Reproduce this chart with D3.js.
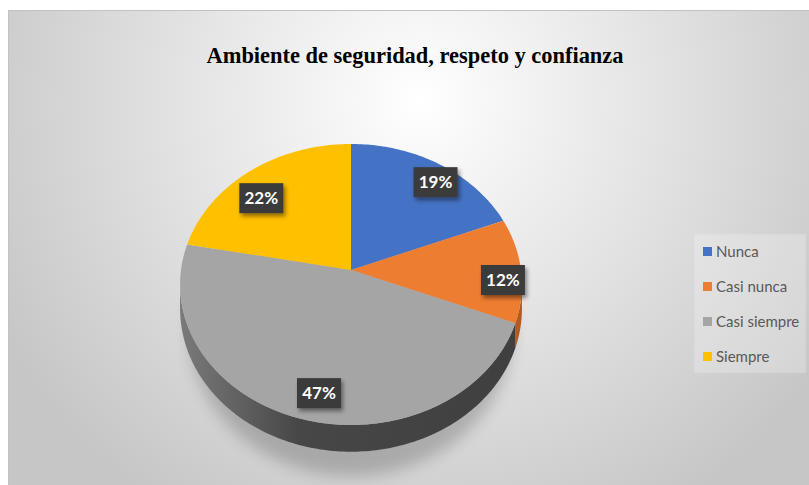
<!DOCTYPE html>
<html>
<head>
<meta charset="UTF-8">
<title>pie_3d</title>
<script src="https://cdn.jsdelivr.net/npm/d3@7"></script>
<style>
  body { margin: 0; background: #fff; }
  .title { font-family: "Liberation Serif", "DejaVu Serif", serif; font-weight: bold; font-size: 24px; fill: #000; text-anchor: middle; }
  .pct { font-family: "Lato", "Open Sans", sans-serif; font-weight: bold; font-size: 17px; fill: #fff; text-anchor: middle; }
  .legend text { font-family: "Lato", "Open Sans", sans-serif; font-size: 15px; fill: #595959; }
</style>
</head>
<body>
<div id="chart"></div>
<script>
// data
var categories = ["Nunca", "Casi nunca", "Casi siempre", "Siempre"];
var values = [19, 12, 47, 22];
var colors = ["#4472c4", "#ed7d31", "#a5a5a5", "#ffc000"];
var sideColors = ["#2f5597", "#b45a1e", "#4a4a4a", "#bf9000"];

// label placement (fraction of radius, angle nudge in degrees)
var labelRadius = [0.86, 0.89, 0.83, 0.78];
var labelNudge = [4, 4.6, -4.2, -6];

var W = 809, H = 485;

var svg = d3.select("#chart").append("svg")
    .attr("width", W)
    .attr("height", H);

var defs = svg.append("defs");

var bg = defs.append("radialGradient")
    .attr("id", "bg")
    .attr("gradientUnits", "userSpaceOnUse")
    .attr("cx", 420).attr("cy", 100).attr("r", 480);
bg.append("stop").attr("offset", "0%").attr("stop-color", "#ffffff");
bg.append("stop").attr("offset", "50%").attr("stop-color", "#e3e3e3");
bg.append("stop").attr("offset", "100%").attr("stop-color", "#c6c6c6");

var sideGrad = defs.append("linearGradient")
    .attr("id", "side")
    .attr("gradientUnits", "userSpaceOnUse")
    .attr("x1", 180).attr("x2", 520).attr("y1", 0).attr("y2", 0);
sideGrad.append("stop").attr("offset", "0%").attr("stop-color", "#7a7a7a");
sideGrad.append("stop").attr("offset", "35%").attr("stop-color", "#474747");
sideGrad.append("stop").attr("offset", "100%").attr("stop-color", "#3f3f3f");

var blur = defs.append("filter").attr("id", "blur")
    .attr("x", "-30%").attr("y", "-30%").attr("width", "160%").attr("height", "160%");
blur.append("feGaussianBlur").attr("stdDeviation", 8);

var shadow = defs.append("filter").attr("id", "shadow")
    .attr("x", "-20%").attr("y", "-20%").attr("width", "150%").attr("height", "160%");
shadow.append("feDropShadow").attr("dx", 2).attr("dy", 3).attr("stdDeviation", 2)
    .attr("flood-color", "#000").attr("flood-opacity", 0.45);

// chart area
svg.append("rect")
    .attr("x", 8).attr("y", 10)
    .attr("width", W - 8).attr("height", H - 10)
    .attr("fill", "url(#bg)");
svg.append("path")
    .attr("d", "M8.5," + H + "V10.5H" + W)
    .attr("fill", "none")
    .attr("stroke", "#c2c2c2");

svg.append("text")
    .attr("class", "title")
    .attr("x", 415).attr("y", 63)
    .attr("textLength", 417)
    .attr("lengthAdjust", "spacingAndGlyphs")
    .text("Ambiente de seguridad, respeto y confianza");

// pie geometry (perspective tilted disc)
var cx = 351, cy = 270, rx = 170, ry = 139, persp = 0.103, depth = 24;

var pie = d3.pie().sort(null).value(function (d) { return d; });
var arcs = pie(values);

var radius = d3.scaleLinear().domain([0, 1]).range([0, 1]);

function proj(a, f, drop) {
    var r = radius(f);
    var v = -Math.cos(a) * r;
    var s = 1 / (1 - persp * v);
    return [cx + rx * Math.sin(a) * r * s, cy + ry * v * s + (drop || 0) * s];
}

function arcPoints(a0, a1, f, drop) {
    var n = Math.max(2, Math.ceil(Math.abs(a1 - a0) / (Math.PI / 180)));
    return d3.range(n + 1).map(function (i) { return proj(a0 + (a1 - a0) * i / n, f, drop); });
}

var line = d3.line();

// soft shadow under the pie
svg.append("ellipse")
    .attr("cx", cx).attr("cy", cy + 60)
    .attr("rx", rx * 0.95).attr("ry", ry * 1.05)
    .attr("fill", "#000").attr("opacity", 0.2)
    .attr("filter", "url(#blur)");

// sides: visible where the disc edge faces the viewer
var sideA0 = Math.acos(-persp), sideA1 = 2 * Math.PI - Math.acos(-persp);

svg.append("g").selectAll("path.side")
    .data(arcs)
    .enter()
    .append("path")
    .attr("class", "side")
    .attr("d", function (d) {
        var a0 = Math.max(d.startAngle, sideA0), a1 = Math.min(d.endAngle, sideA1);
        if (a1 <= a0) return null;
        var top = arcPoints(a0, a1, 1, 0);
        var bottom = arcPoints(a1, a0, 1, depth);
        return line(top.concat(bottom)) + "Z";
    })
    .attr("fill", function (d, i) { return i === 2 ? "url(#side)" : sideColors[i]; });

// top faces
svg.append("g").selectAll("path.slice")
    .data(arcs)
    .enter()
    .append("path")
    .attr("class", "slice")
    .attr("d", function (d) {
        return line([proj(0, 0)].concat(arcPoints(d.startAngle, d.endAngle, 1, 0))) + "Z";
    })
    .attr("fill", function (d, i) { return colors[i]; });

// labels
var lab = svg.append("g").selectAll("g.lab")
    .data(arcs)
    .enter()
    .append("g")
    .attr("class", "lab")
    .attr("transform", function (d, i) {
        var a = (d.startAngle + d.endAngle) / 2 + labelNudge[i] * Math.PI / 180;
        var p = proj(a, labelRadius[i], 0);
        return "translate(" + p[0] + "," + p[1] + ")";
    });

lab.append("rect")
    .attr("x", -22).attr("y", -15)
    .attr("width", 44).attr("height", 30)
    .attr("fill", "#3b3b3b")
    .attr("filter", "url(#shadow)");

lab.append("text")
    .attr("class", "pct")
    .attr("y", 6)
    .text(function (d) { return d.data + "%"; });

// legend
var legend = svg.append("g").attr("class", "legend");
legend.append("rect")
    .attr("x", 694).attr("y", 234)
    .attr("width", 112).attr("height", 139)
    .attr("fill", "#ffffff").attr("opacity", 0.25)
    .attr("stroke", "#e0e0e0");

var item = legend.selectAll("g.item")
    .data(categories)
    .enter()
    .append("g")
    .attr("class", "item")
    .attr("transform", function (d, i) { return "translate(703," + (252 + i * 35) + ")"; });

item.append("rect")
    .attr("x", 0).attr("y", -5)
    .attr("width", 9).attr("height", 9)
    .attr("fill", function (d, i) { return colors[i]; });

item.append("text")
    .attr("x", 13).attr("y", 5)
    .text(function (d) { return d; });
</script>
</body>
</html>
